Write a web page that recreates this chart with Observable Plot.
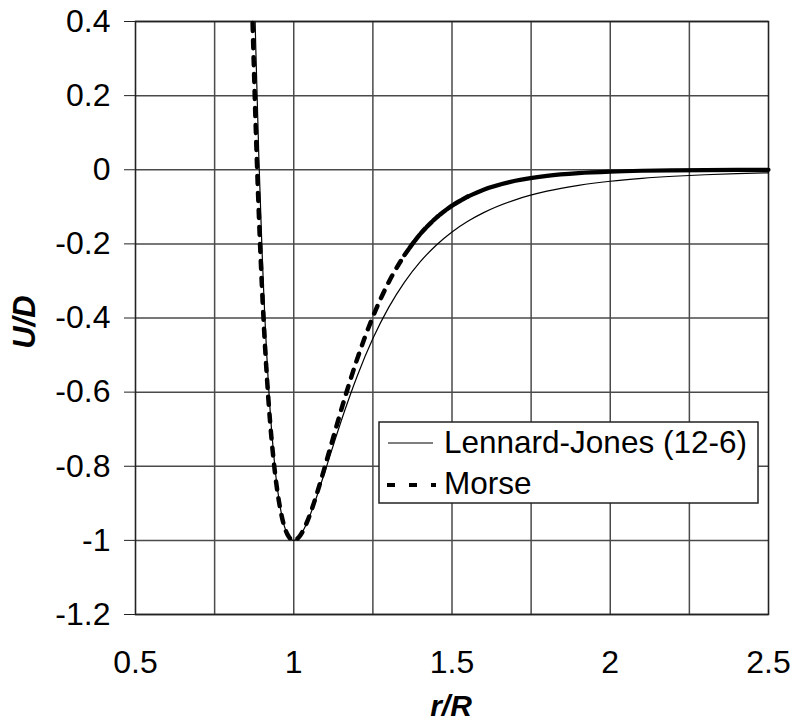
<!DOCTYPE html>
<html>
<head>
<meta charset="utf-8">
<script src="https://cdn.jsdelivr.net/npm/d3@7"></script>
<script src="https://cdn.jsdelivr.net/npm/@observablehq/plot@0.6"></script>
<style>
  html, body { margin: 0; padding: 0; background: #fff; }
  #chart svg { display: block; }
</style>
</head>
<body>
<div id="chart"></div>
<script>
// r/R sample points and U/D values
const ljR = [0.878, 0.88, 0.89, 0.90, 0.92, 0.94, 0.96, 0.98, 1.00, 1.02, 1.04, 1.06, 1.08, 1.10, 1.13, 1.16, 1.20, 1.25, 1.30, 1.35, 1.40, 1.45, 1.50, 1.55, 1.60, 1.70, 1.80, 1.90, 2.00, 2.10, 2.20, 2.30, 2.40, 2.50];
const ljU = [0.399, 0.330, 0.025, -0.2226, -0.5785, -0.7979, -0.9230, -0.9834, -1.0, -0.9874, -0.9560, -0.9130, -0.8632, -0.8103, -0.7299, -0.6524, -0.5576, -0.4556, -0.3714, -0.3031, -0.2480, -0.2036, -0.1679, -0.1390, -0.1157, -0.0811, -0.0579, -0.0421, -0.0310, -0.0232, -0.0176, -0.0135, -0.0104, -0.0082];

const morseR = [0.870, 0.88, 0.89, 0.90, 0.92, 0.94, 0.96, 0.98, 1.00, 1.02, 1.04, 1.06, 1.08, 1.10, 1.13, 1.16, 1.20, 1.25, 1.30, 1.35, 1.40, 1.45, 1.50, 1.55, 1.60, 1.70, 1.80, 1.90, 2.00, 2.10, 2.20, 2.30, 2.40, 2.50];
const morseU = [0.396, 0.112, -0.126, -0.3241, -0.6205, -0.8122, -0.9264, -0.9838, -1.0, -0.9872, -0.9545, -0.9086, -0.8547, -0.7964, -0.7067, -0.6192, -0.5117, -0.3965, -0.3033, -0.2299, -0.1732, -0.1299, -0.0971, -0.0724, -0.0539, -0.0298, -0.0164, -0.0090, -0.0050, -0.0027, -0.0015, -0.0008, -0.0004, -0.0002];

const xTicks = [0.5, 1, 1.5, 2, 2.5];
const xTickLabels = ["0.5", "1", "1.5", "2", "2.5"];
const xGrid = [0.75, 1, 1.25, 1.5, 1.75, 2, 2.25];
const yTicks = [0.4, 0.2, 0, -0.2, -0.4, -0.6, -0.8, -1, -1.2];
const yTickLabels = ["0.4", "0.2", "0", "-0.2", "-0.4", "-0.6", "-0.8", "-1", "-1.2"];
const seriesNames = ["Lennard-Jones (12-6)", "Morse"];
const xLabel = "r/R";
const yLabel = "U/D";

const lj = ljR.map((r, i) => ({r, u: ljU[i]}));
const morse = morseR.map((r, i) => ({r, u: morseU[i]}));
const morseDashed = morse.filter(d => d.r <= 1.38);
const morseDense = morse.filter(d => d.r >= 1.35 && d.r <= 1.55);
const morseSolid = morse.filter(d => d.r >= 1.55);

const font = "'Liberation Sans', Arial, Helvetica, sans-serif";
const gridColor = "#4a4a4a";

const chart = Plot.plot({
  width: 791,
  height: 726,
  marginLeft: 135,
  marginRight: 23,
  marginTop: 21,
  marginBottom: 112,
  style: {fontFamily: font, fontSize: "32px", background: "#fff", color: "#000"},
  x: {domain: [0.5, 2.5]},
  y: {domain: [-1.2, 0.4]},
  marks: [
    Plot.gridX(xGrid, {stroke: gridColor, strokeOpacity: 1, strokeWidth: 1.5}),
    Plot.gridY(yTicks, {stroke: gridColor, strokeOpacity: 1, strokeWidth: 1.5}),
    Plot.frame({stroke: "#222", strokeWidth: 1.6}),
    Plot.axisY(yTicks, {
      tickSize: 11, tickPadding: 14, fontSize: 32, stroke: "#222",
      tickFormat: d => yTickLabels[yTicks.indexOf(d)], label: null
    }),
    Plot.axisX(xTicks, {
      tickSize: 0, tickPadding: 36, fontSize: 32,
      tickFormat: d => xTickLabels[xTicks.indexOf(d)], label: null
    }),
    Plot.line(lj, {x: "r", y: "u", stroke: "#000", strokeWidth: 1.2, curve: "monotone-x"}),
    Plot.line(morseDashed, {x: "r", y: "u", stroke: "#000", strokeWidth: 4.5, strokeDasharray: "8,9", curve: "monotone-x"}),
    Plot.line(morseDense, {x: "r", y: "u", stroke: "#000", strokeWidth: 4.5, strokeDasharray: "7,2", curve: "monotone-x"}),
    Plot.line(morseSolid, {x: "r", y: "u", stroke: "#000", strokeWidth: 4.2, curve: "monotone-x"})
  ]
});

const svg = d3.select(chart);
// Axis titles
svg.append("text")
  .attr("transform", "translate(24,322) rotate(-90)")
  .attr("dy", "0.35em")
  .style("font-family", font).style("font-size", "31px")
  .style("font-weight", "bold").style("font-style", "italic")
  .style("text-anchor", "middle").attr("fill", "#000").text(yLabel);
svg.append("text")
  .attr("x", 451).attr("y", 716)
  .style("font-family", font).style("font-size", "30px")
  .style("font-weight", "bold").style("font-style", "italic")
  .style("text-anchor", "middle").attr("fill", "#000").text(xLabel);

// Legend box
const lg = svg.append("g");
lg.append("rect").attr("x", 379).attr("y", 422).attr("width", 379).attr("height", 81)
  .attr("fill", "#fff").attr("stroke", "#222").attr("stroke-width", 1.5);
lg.append("line").attr("x1", 388).attr("x2", 433).attr("y1", 443).attr("y2", 443)
  .attr("stroke", "#000").attr("stroke-width", 1.2);
lg.append("line").attr("x1", 387).attr("x2", 436).attr("y1", 485).attr("y2", 485)
  .attr("stroke", "#000").attr("stroke-width", 4).attr("stroke-dasharray", "8,14");
[[seriesNames[0], 453], [seriesNames[1], 494]].forEach(([t, y]) => {
  lg.append("text").attr("x", 444).attr("y", y)
    .style("font-family", font).style("font-size", "31.5px")
    .style("text-anchor", "start")
    .attr("fill", "#000").text(t);
});

document.getElementById("chart").appendChild(chart);
</script>
</body>
</html>
